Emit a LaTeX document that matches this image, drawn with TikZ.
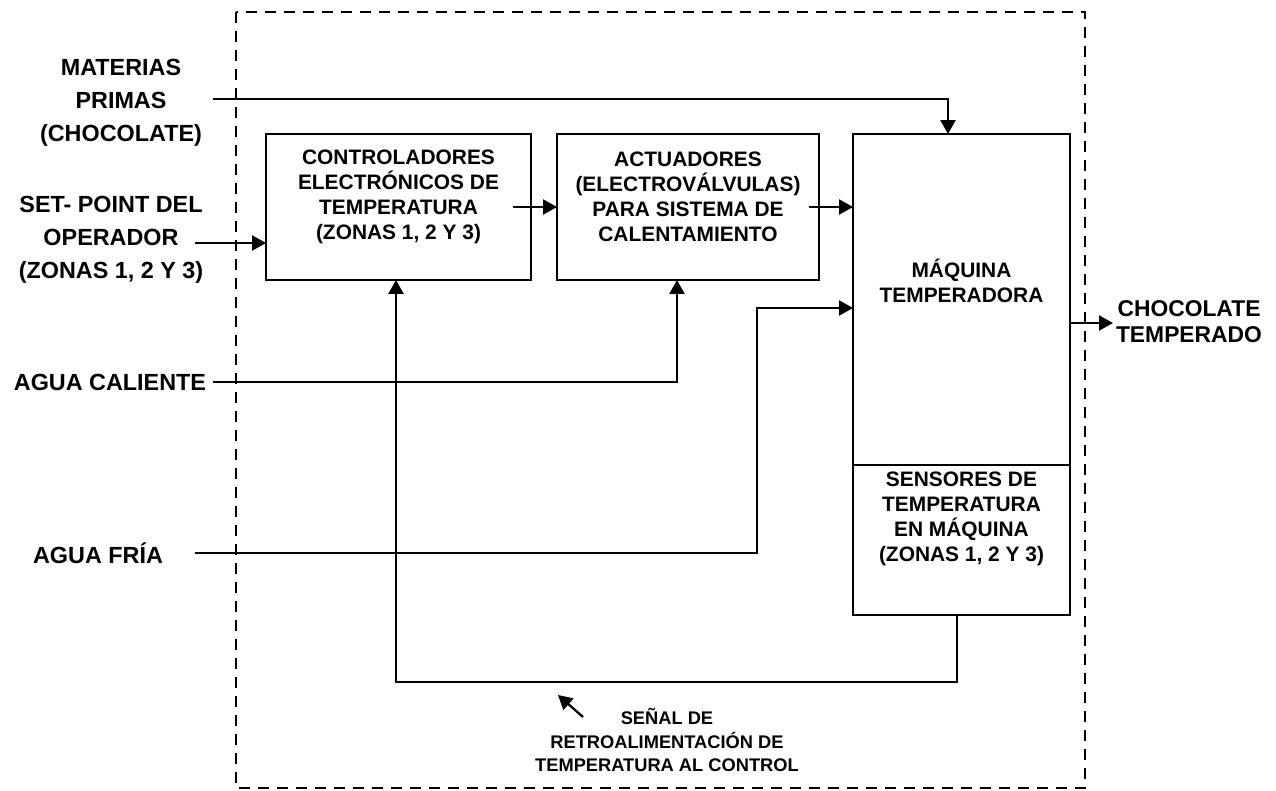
\documentclass[tikz,border=0pt]{standalone}
\usepackage{fontspec}
\setmainfont{Liberation Sans}
\usetikzlibrary{arrows.meta}

\begin{document}
\begin{tikzpicture}[x=0.02cm,y=-0.02cm,
	blk/.style={draw,line width=1.3pt,inner sep=0pt,outer sep=0pt},
	blktxt/.style={align=center,font=\bfseries\fontsize{11.9}{14.2}\selectfont},
	side/.style={align=center,font=\bfseries\fontsize{13.3}{18.7}\selectfont},
	sideout/.style={align=center,font=\bfseries\fontsize{13}{14.8}\selectfont},
	note/.style={align=center,font=\bfseries\fontsize{10.4}{13.4}\selectfont},
	arr/.style={line width=1.3pt,-{Triangle[length=0.28cm,width=0.3cm]}},
	frame/.style={line width=1.3pt,dash pattern=on 0.22cm off 0.16cm}]

	\useasboundingbox (0,0) rectangle (1276,791);

	% system boundary
	\draw[frame] (236,12) rectangle (1085,788);

	% blocks
	\node[blk,minimum width=5.3cm,minimum height=2.92cm] (ctrl) at (398.5,207) {};
	\node[blktxt] (ctrltxt) at (398.5,197) {CONTROLADORES\\ELECTRÓNICOS DE\\TEMPERATURA\\(ZONAS 1, 2 Y 3)};
	\node[blk,minimum width=5.24cm,minimum height=2.92cm] (act) at (688,207) {};
	\node[blktxt] (acttxt) at (688,197) {ACTUADORES\\(ELECTROVÁLVULAS)\\PARA SISTEMA DE\\CALENTAMIENTO};
	\node[blk,minimum width=4.34cm,minimum height=6.62cm] (maq) at (961.5,299.5) {};
	\node[blktxt] (maqtxt) at (961.5,281) {MÁQUINA\\TEMPERADORA};
	\node[blk,minimum width=4.34cm,minimum height=3cm] (sen) at (961.5,540) {};
	\node[blktxt] (sentxt) at (961.5,519) {SENSORES DE\\TEMPERATURA\\EN MÁQUINA\\(ZONAS 1, 2 Y 3)};

	% inputs and output
	\node[side] (mp) at (121,103) {MATERIAS\\PRIMAS\\(CHOCOLATE)};
	\node[side] (sp) at (111,240) {SET- POINT DEL\\OPERADOR\\(ZONAS 1, 2 Y 3)};
	\node[side] (cal) at (110,382) {AGUA CALIENTE};
	\node[side] (fria) at (98,553) {AGUA FRÍA};
	\node[sideout] (choc) at (1189,322) {CHOCOLATE\\TEMPERADO};
	\node[note] (ret) at (667,740) {SEÑAL DE\\RETROALIMENTACIÓN DE\\TEMPERATURA AL CONTROL};

	\coordinate (mp-in) at (213,99);
	\coordinate (sp-in) at (195,243);
	\coordinate (cal-in) at (213,382);
	\coordinate (fria-in) at (195,553);
	\coordinate (fria-up) at (757,308);
	\coordinate (out) at (1113,323);
	\coordinate (rl) at (396,682);
	\coordinate (sig) at (583,717);
	\coordinate (sig-tip) at (558,695);

	% connectors
	\draw[arr] (mp-in) -| ([xshift=-0.27cm]maq.north);
	\draw[arr] (sp-in) -- (ctrl.west |- sp-in);
	\draw[arr] ([xshift=-0.36cm]ctrl.east) -- (act.west);
	\draw[arr] ([xshift=-0.2cm]act.east) -- (maq.west |- act.east);
	\draw[arr] (cal-in) -| ([xshift=-0.22cm]act.south);
	\draw[arr] (fria-in) -| (fria-up) -- (maq.west |- fria-up);
	\draw[arr] (maq.east |- out) -- (out);
	\draw[arr] ([xshift=-0.09cm]sen.south) |- (rl) -- (rl |- ctrl.south);
	\draw[arr] (sig) -- (sig-tip);

\end{tikzpicture}
\end{document}
